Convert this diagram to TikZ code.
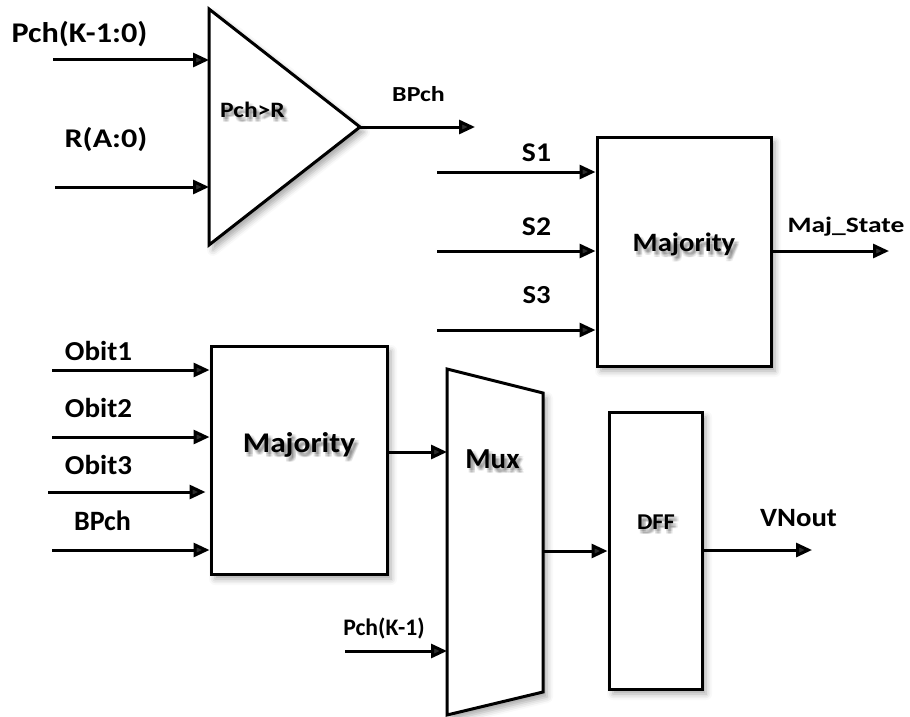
\documentclass[tikz,border=0pt]{standalone}
\usepackage{fontspec}
\setmainfont{Carlito}
\usepackage{graphicx}
\usetikzlibrary{arrows.meta,shadows.blur,calc}

\tikzset{
  wire/.style={line width=3pt,-{Triangle[length=16pt,width=14pt]}},
  softshadow/.style={blur shadow={shadow xshift=4pt,shadow yshift=-5pt,shadow blur radius=6pt,shadow opacity=35}},
  block/.style={draw,line width=3pt,fill=white,inner sep=0pt,softshadow},
  outline/.style={draw,line width=3pt,fill=white,line join=miter,softshadow},
  lbl/.style={inner sep=0pt,anchor=base,font=\bfseries},
}
% text at a given size, stretched horizontally
\newcommand\wide[3]{\fontsize{#1}{#1}\selectfont\scalebox{#2}[1]{#3}}
% label with a soft grey shadow behind it; #2 is "x,y"
\newcommand\softlabel[3]{%
  \foreach \dx in {1.5,3,4.5}{\foreach \dy in {2.5,4,5.5}{%
    \node[lbl,text=black,text opacity=0.06] at ([shift={(\dx pt,-\dy pt)}]#2) {#3};}}%
  \node[lbl] (#1) at (#2) {#3};}

\begin{document}
\begin{tikzpicture}[x=1pt,y=-1pt]
\useasboundingbox (0,0) rectangle (910,717);

% ---- comparator ----
\coordinate (cmpTop) at (209,9);
\coordinate (cmpTip) at (360,127);
\coordinate (cmpBot) at (209,245);
\path[outline] (cmpTop) -- (cmpTip) -- (cmpBot) -- cycle;
\coordinate (cmpA) at (209,60);
\coordinate (cmpB) at (209,187);

% ---- blocks ----
\node[block,minimum width=174pt,minimum height=229pt] (majS) at (684,251.5) {};
\node[block,minimum width=176pt,minimum height=228pt] (majO) at (299,460) {};
\node[block,minimum width=93pt,minimum height=277pt] (dff) at (655.5,550.5) {};

% ---- multiplexer ----
\coordinate (muxTL) at (447,369);
\coordinate (muxTR) at (543,393);
\coordinate (muxBR) at (543,692);
\coordinate (muxBL) at (447,715);
\path[outline] (muxTL) -- (muxTR) -- (muxBR) -- (muxBL) -- cycle;
\coordinate (muxIn) at (447,452);
\coordinate (muxSel) at (447,651);
\coordinate (muxOut) at (543,551);

% ---- block labels ----
\softlabel{tCmp}{252.5,117}{\wide{22}{1.16}{Pch>R}}
\softlabel{tMajS}{684,251.7}{\wide{26.5}{1.08}{Majority}}
\softlabel{tMajO}{299,452}{\wide{28.5}{1.1}{Majority}}
\softlabel{tMux}{492.5,468}{\wide{29}{1.0}{Mux}}
\softlabel{tDff}{656,529}{\wide{22.6}{1.08}{DFF}}

% ---- signal labels ----
\node[lbl] (lPch) at (79.5,43) {\wide{28.5}{1.13}{Pch(K-1:0)}};
\node[lbl] (lR) at (106,147) {\wide{27}{1.19}{R(A:0)}};
\node[lbl] (lBPch) at (418.5,101.7) {\wide{21.4}{1.21}{BPch}};
\node[lbl] (lS1) at (536.5,161.7) {\wide{27}{1.1}{S1}};
\node[lbl] (lS2) at (536.5,235) {\wide{27}{1.1}{S2}};
\node[lbl] (lS3) at (536.5,303) {\wide{26}{1.1}{S3}};
\node[lbl] (lMaj) at (846,232) {\wide{22}{1.25}{Maj\_State}};
\node[lbl] (lO1) at (98.5,360.7) {\wide{27.4}{1.06}{Obit1}};
\node[lbl] (lO2) at (98.5,417) {\wide{27.4}{1.06}{Obit2}};
\node[lbl] (lO3) at (98.5,474) {\wide{27.4}{1.06}{Obit3}};
\node[lbl] (lBP2) at (102.5,530) {\wide{28}{1.0}{BPch}};
\node[lbl] (lSel) at (384,635) {\wide{23.7}{1.0}{Pch(K-1)}};
\node[lbl] (lVN) at (798.5,526.7) {\wide{26.4}{1.09}{VNout}};

% ---- free wire ends ----
\coordinate (inPch) at (53,60);
\coordinate (inR) at (55,187);
\coordinate (outBPch) at (475,127);
\coordinate (inS1) at (437,172);
\coordinate (inS2) at (437,251);
\coordinate (inS3) at (437,330);
\coordinate (outMaj) at (889,251);
\coordinate (inO1) at (52,370);
\coordinate (inO2) at (52,437);
\coordinate (inO3) at (48,492);
\coordinate (inBP) at (52,550);
\coordinate (inSel) at (345,651);
\coordinate (outVN) at (812,550);

% ---- wires ----
\draw[wire] (inPch) -- (cmpA);
\draw[wire] (inR) -- (cmpB);
\draw[wire] (cmpTip) -- (outBPch);
\draw[wire] (inS1) -- (inS1 -| majS.west);
\draw[wire] (inS2) -- (inS2 -| majS.west);
\draw[wire] (inS3) -- (inS3 -| majS.west);
\draw[wire] (majS.east |- outMaj) -- (outMaj);
\draw[wire] (inO1) -- (inO1 -| majO.west);
\draw[wire] (inO2) -- (inO2 -| majO.west);
\draw[wire] (inO3) -- ([xshift=-4pt]inO3 -| majO.west);
\draw[wire] (inBP) -- (inBP -| majO.west);
\draw[wire] (majO.east |- muxIn) -- (muxIn);
\draw[wire] (inSel) -- (muxSel);
\draw[wire] (muxOut) -- (muxOut -| dff.west);
\draw[wire] (dff.east |- outVN) -- (outVN);
\end{tikzpicture}
\end{document}
